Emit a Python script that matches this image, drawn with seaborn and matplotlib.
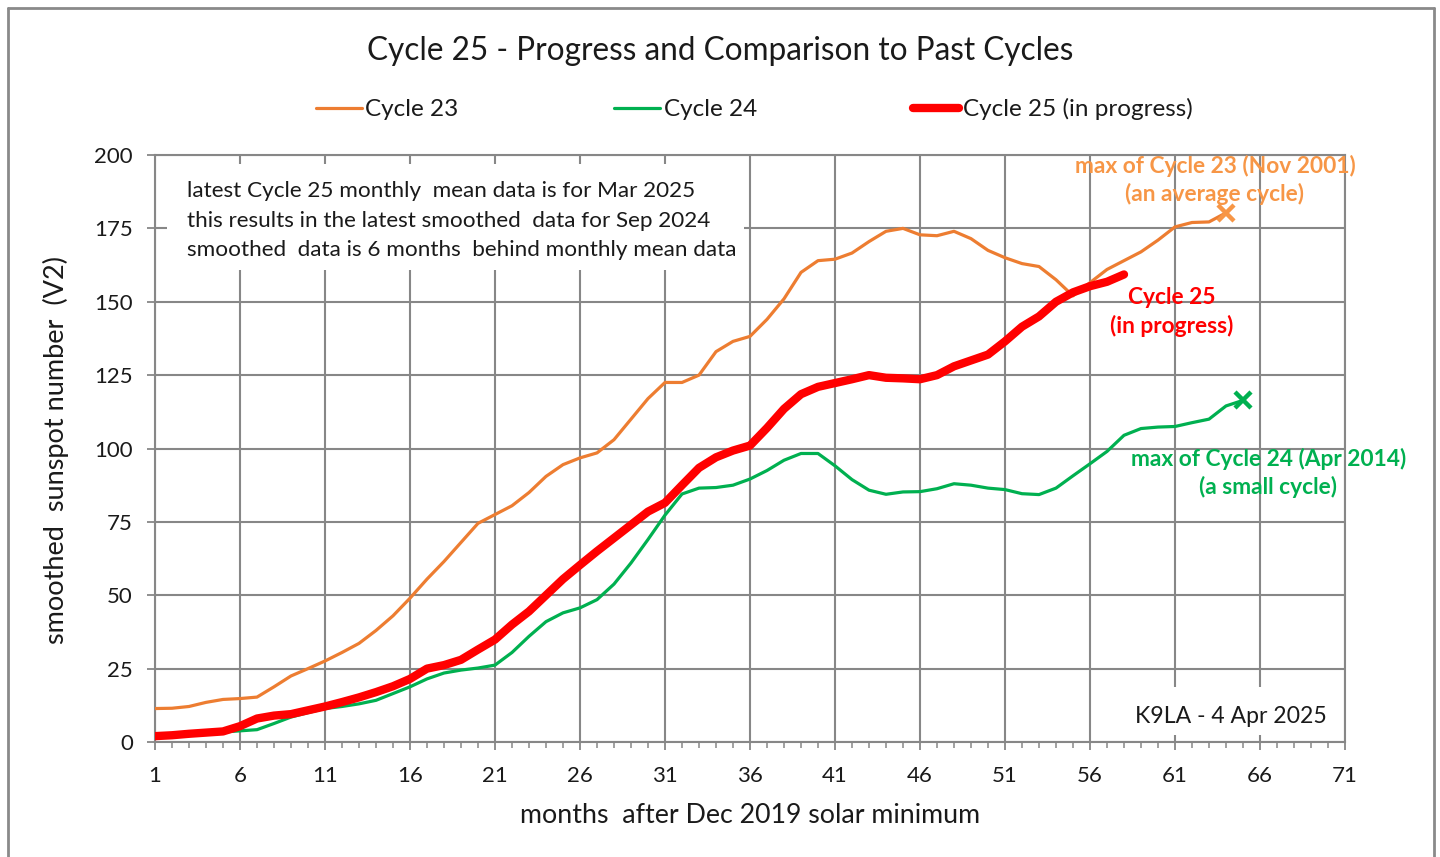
import matplotlib
matplotlib.use("Agg")
import matplotlib.pyplot as plt
import seaborn as sns
import pandas as pd
from matplotlib.patches import Rectangle
from matplotlib.lines import Line2D
from matplotlib.ticker import MultipleLocator, FixedLocator

# ---------------- data ----------------
cycle23 = [11.4, 11.5, 12.1, 13.5, 14.5, 14.8, 15.3, 18.8, 22.5, 25.0,
           27.6, 30.5, 33.6, 38.0, 43.0, 49.0, 55.5, 61.5, 68.0, 74.5,
           77.5, 80.5, 85.0, 90.5, 94.5, 96.8, 98.5, 103.0, 110.0, 117.0,
           122.5, 122.5, 125.0, 133.0, 136.5, 138.2, 144.0, 151.0, 160.0, 164.0,
           164.5, 166.6, 170.5, 174.0, 175.0, 172.8, 172.5, 174.0, 171.5, 167.5,
           165.0, 163.0, 162.0, 157.5, 152.0, 156.5, 161.0, 164.0, 167.0, 171.0,
           175.5, 177.0, 177.2, 180.3]
cycle24 = [2.2, 2.5, 2.8, 3.1, 3.4, 3.8, 4.2, 6.3, 8.5, 10.0,
           11.4, 12.1, 13.0, 14.2, 16.5, 18.8, 21.5, 23.5, 24.5, 25.2,
           26.2, 30.5, 36.0, 41.0, 44.0, 45.7, 48.5, 53.8, 61.0, 69.0,
           77.3, 84.5, 86.5, 86.7, 87.5, 89.6, 92.5, 96.0, 98.3, 98.3,
           94.1, 89.4, 85.8, 84.4, 85.2, 85.3, 86.3, 88.0, 87.5, 86.5,
           86.0, 84.6, 84.3, 86.5, 90.7, 94.8, 99.0, 104.5, 106.8, 107.3,
           107.5, 108.8, 110.0, 114.5, 116.4]
cycle25 = [2.0, 2.3, 2.8, 3.2, 3.6, 5.4, 8.0, 9.0, 9.5, 10.8,
           12.1, 13.6, 15.2, 17.0, 19.0, 21.5, 25.0, 26.2, 28.0, 31.5,
           34.9, 40.0, 44.5, 50.0, 55.5, 60.3, 65.0, 69.5, 74.0, 78.5,
           81.5, 87.5, 93.4, 97.0, 99.3, 101.0, 107.0, 113.5, 118.5, 121.0,
           122.3, 123.6, 125.0, 124.1, 123.9, 123.6, 125.0, 128.0, 130.0, 132.0,
           136.5, 141.5, 145.0, 150.0, 153.2, 155.3, 156.8, 159.3]
months23 = list(range(1, len(cycle23) + 1))
months24 = list(range(1, len(cycle24) + 1))
months25 = list(range(1, len(cycle25) + 1))

series_labels = ["Cycle 23", "Cycle 24", "Cycle 25 (in progress)"]
x_ticks = [1, 6, 11, 16, 21, 26, 31, 36, 41, 46, 51, 56, 61, 66, 71]
y_ticks = [0, 25, 50, 75, 100, 125, 150, 175, 200]

title = "Cycle 25 - Progress and Comparison to Past Cycles"
xlabel = "months  after Dec 2019 solar minimum"
ylabel = "smoothed  sunspot number  (V2)"
info_text = ("latest Cycle 25 monthly  mean data is for Mar 2025\n"
             "this results in the latest smoothed  data for Sep 2024\n"
             "smoothed  data is 6 months  behind monthly mean data")
credit = "K9LA - 4 Apr 2025"

# ---------------- style ----------------
C23 = "#ED7D31"
C23T = "#F79646"
C24 = "#00B050"
C25 = "#FF0000"
GRID = "#878787"
TXT = "#1a1a1a"

sns.set_theme(style="white")
plt.rcParams["font.family"] = ["Lato", "DejaVu Sans"]

fig = plt.figure(figsize=(14.4, 8.57), dpi=100)
ax = fig.add_axes([155 / 1440, 1 - 742 / 857, 1190 / 1440, 587 / 857])

df23 = pd.DataFrame({"month": months23, "ssn": cycle23})
df24 = pd.DataFrame({"month": months24, "ssn": cycle24})
df25 = pd.DataFrame({"month": months25, "ssn": cycle25})

sns.lineplot(data=df23, x="month", y="ssn", ax=ax, color=C23, lw=2.3,
             label=series_labels[0], zorder=3, legend=False)
sns.lineplot(data=df24, x="month", y="ssn", ax=ax, color=C24, lw=2.3,
             label=series_labels[1], zorder=3, legend=False)
sns.lineplot(data=df25, x="month", y="ssn", ax=ax, color=C25, lw=6.0,
             label=series_labels[2], zorder=4, legend=False,
             solid_capstyle="round", solid_joinstyle="round")

# X markers at the maxima of cycles 23 and 24
ax.plot([months23[-1]], [cycle23[-1]], marker="x", ms=11, mew=3.2,
        color=C23T, zorder=5, linestyle="none")
ax.plot([months24[-1]], [cycle24[-1]], marker="x", ms=11, mew=3.2,
        color=C24, zorder=5, linestyle="none")

ax.set_xlim(x_ticks[0], x_ticks[-1])
ax.set_ylim(y_ticks[0], y_ticks[-1])
ax.xaxis.set_major_locator(FixedLocator(x_ticks))
ax.xaxis.set_minor_locator(MultipleLocator(1))
ax.yaxis.set_major_locator(FixedLocator(y_ticks))
ax.set_xticklabels([str(t) for t in x_ticks])
ax.set_yticklabels([str(t) for t in y_ticks])

ax.set_axisbelow(True)
ax.grid(True, which="major", color=GRID, lw=1.5)
for s in ax.spines.values():
    s.set_visible(True)
    s.set_color(GRID)
    s.set_linewidth(1.5)

ax.tick_params(axis="x", which="major", direction="out", length=6, width=1.3,
               color=GRID, pad=11, labelsize=16, labelcolor=TXT, bottom=True)
ax.tick_params(axis="x", which="minor", direction="out", length=4, width=1.1,
               color=GRID, bottom=True)
ax.tick_params(axis="y", which="major", direction="out", length=6, width=1.3,
               color=GRID, pad=10, labelsize=16, labelcolor=TXT, left=True)

ax.set_xlabel(xlabel, fontsize=19.3, color=TXT)
ax.set_ylabel(ylabel, fontsize=19.5, color=TXT)
ax.xaxis.set_label_coords(0.5, -0.104)
ax.yaxis.set_label_coords(-0.072, 0.497)

# white boxes hiding the grid behind the notes
ax.add_patch(Rectangle((0.010, 0.804), 0.485, 0.181, transform=ax.transAxes,
                       facecolor="white", edgecolor="none", zorder=1))
ax.text(0.0265, 0.888, info_text, transform=ax.transAxes, ha="left",
        va="center", fontsize=16.2, color=TXT, linespacing=1.6, zorder=2)

ax.add_patch(Rectangle((0.797, 0.012), 0.199, 0.082, transform=ax.transAxes,
                       facecolor="white", edgecolor="none", zorder=1))
ax.text(0.9045, 0.0440, credit, transform=ax.transAxes, ha="center",
        va="center", fontsize=16.6, color=TXT, zorder=2)

# annotations
ax.text(63.35, 191.5, "max of Cycle 23 (Nov 2001)\n(an average cycle)",
        ha="center", va="center", multialignment="center", fontsize=16.4,
        fontweight="bold", color=C23T, linespacing=1.37, zorder=6)
ax.text(60.8, 146.5, "Cycle 25\n(in progress)", ha="center", va="center",
        multialignment="center", fontsize=16.4, fontweight="bold", color=C25,
        linespacing=1.37, zorder=6)
ax.text(66.5, 91.7, "max of Cycle 24 (Apr 2014)\n(a small cycle)",
        ha="center", va="center", multialignment="center", fontsize=16.4,
        fontweight="bold", color=C24, linespacing=1.37, zorder=6)

# title and legend
fig.text(0.5, 1 - 51 / 857, title, ha="center", va="center", fontsize=22.7,
         color=TXT)
handles, labels = ax.get_legend_handles_labels()
leg = fig.legend(handles, labels, loc="center",
                 bbox_to_anchor=(754 / 1440, 1 - 109 / 857), ncol=3,
                 frameon=False, fontsize=17.5, handlelength=1.9,
                 handletextpad=0.15, columnspacing=6.4)
for t in leg.get_texts():
    t.set_color(TXT)

# outer frame of the chart area
fw, fh = 1440, 857
for (x0, y0, x1, y1) in [(8, 8, 1434, 8), (8, 8, 8, 857), (1434, 8, 1434, 857)]:
    fig.add_artist(Line2D([x0 / fw, x1 / fw], [1 - y0 / fh, 1 - y1 / fh],
                          transform=fig.transFigure, color="#8a8a8a", lw=2))

fig.savefig("out.png", dpi=100, facecolor="white")
